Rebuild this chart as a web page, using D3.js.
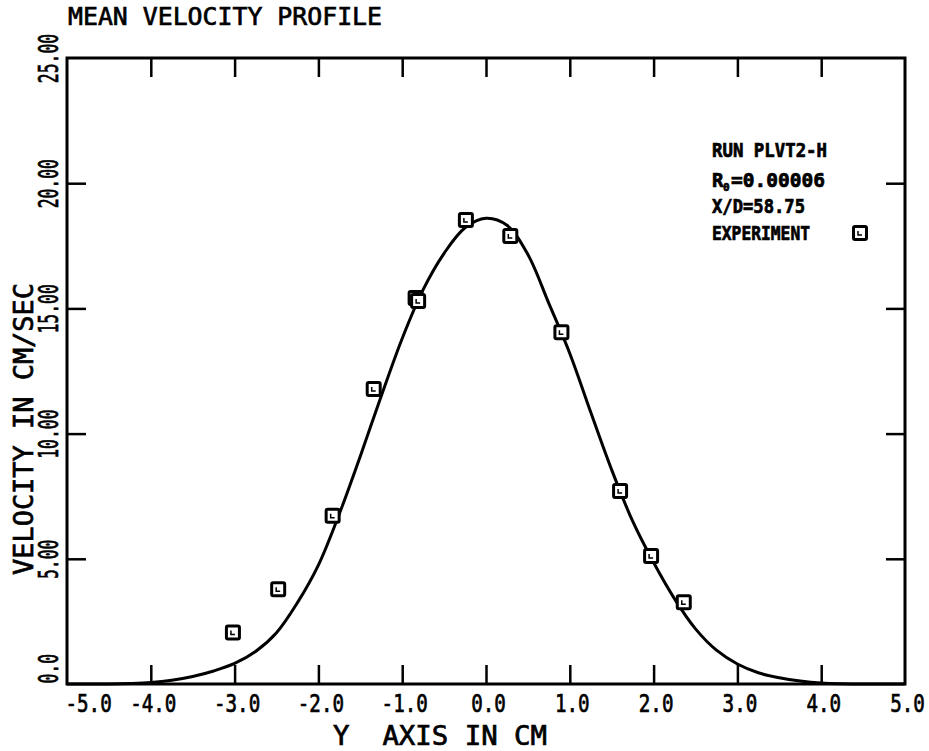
<!DOCTYPE html>
<html>
<head>
<meta charset="utf-8">
<script src="https://cdn.jsdelivr.net/npm/d3@7"></script>
<style>
  html, body { margin: 0; padding: 0; background: #fff; }
  svg { display: block; }
  text { font-family: "DejaVu Sans Mono", "Liberation Mono", monospace; fill: #000; white-space: pre; stroke: #000; stroke-width: 0.7px; }
</style>
</head>
<body>
<svg id="chart" width="929" height="751"></svg>
<script>
// ---- data ----
const xTicks = [-5, -4, -3, -2, -1, 0, 1, 2, 3, 4, 5];
const xTickLabels = ["-5.0", "-4.0", "-3.0", "-2.0", "-1.0", "0.0", "1.0", "2.0", "3.0", "4.0", "5.0"];
const yTicks = [0, 5, 10, 15, 20, 25];
const yTickLabels = ["0.0", "5.00", "10.00", "15.00", "20.00", "25.00"];
const innerXTicks = [-4, -3, -2, -1, 0, 1, 2, 3, 4];
const innerYTicks = [5, 10, 15, 20];

// experiment points (Y in cm, velocity cm/s)
const expY = [-3.02, -2.48, -1.83, -1.34, -0.84, -0.81, -0.24, 0.29, 0.90, 1.60, 1.97, 2.36];
const expV = [2.06, 3.78, 6.72, 11.78, 15.42, 15.30, 18.53, 17.89, 14.05, 7.71, 5.11, 3.26];

// computed profile
const curveY = [-5.0, -4.5, -4.25, -4.0, -3.75, -3.5, -3.25, -3.0, -2.75, -2.5, -2.25, -2.0, -1.75, -1.5, -1.25, -1.0, -0.75, -0.5, -0.25, 0.0, 0.25, 0.5, 0.75, 1.0, 1.25, 1.5, 1.75, 2.0, 2.25, 2.5, 2.75, 3.0, 3.25, 3.5, 3.75, 4.0, 4.25, 4.5, 5.0];
const curveV = [0.0, 0.0, 0.02, 0.06, 0.15, 0.30, 0.52, 0.82, 1.30, 2.05, 3.25, 4.75, 6.80, 9.10, 11.50, 13.80, 15.75, 17.20, 18.22, 18.60, 18.32, 17.15, 15.20, 13.20, 10.85, 8.55, 6.50, 4.85, 3.40, 2.20, 1.35, 0.80, 0.45, 0.25, 0.12, 0.04, 0.01, 0.0, 0.0];

const titleText = "MEAN VELOCITY PROFILE";
const xTitle = "Y  AXIS IN CM";
const yTitle = "VELOCITY IN CM/SEC";
const legendLines = ["RUN PLVT2-H", "=0.00006", "X/D=58.75", "EXPERIMENT"];

// ---- layout ----
const L = 67, R = 905, T = 58, B = 684;
const svg = d3.select("#chart");
const x = d3.scaleLinear().domain([-5, 5]).range([L, R]);
const y = d3.scaleLinear().domain([0, 25]).range([B, T]);

// frame
svg.append("rect").attr("x", L).attr("y", T).attr("width", R - L).attr("height", B - T)
  .attr("fill", "none").attr("stroke", "#000").attr("stroke-width", 3);

// inward ticks via axes
function tickAxis(axis, tr) {
  const g = svg.append("g").attr("transform", tr).call(axis);
  g.select(".domain").remove();
  g.selectAll(".tick line").attr("stroke", "#000").attr("stroke-width", 2.5);
  g.selectAll(".tick text").remove();
  return g;
}
tickAxis(d3.axisBottom(x).tickValues(innerXTicks).tickSize(-19).tickFormat(""), `translate(0,${B})`);
tickAxis(d3.axisTop(x).tickValues(innerXTicks).tickSize(-19).tickFormat(""), `translate(0,${T})`);
tickAxis(d3.axisLeft(y).tickValues(innerYTicks).tickSize(-19).tickFormat(""), `translate(${L},0)`);
tickAxis(d3.axisRight(y).tickValues(innerYTicks).tickSize(-19).tickFormat(""), `translate(${R},0)`);

// x tick labels
const xl = svg.append("g").attr("transform", `translate(0,${B})`)
  .call(d3.axisBottom(x).tickValues(xTicks).tickSize(0).tickFormat((d, i) => xTickLabels[i]));
xl.select(".domain").remove();
xl.attr("font-size", null).attr("font-family", null);
xl.selectAll(".tick text")
  .attr("y", null).attr("dy", null)
  .style("font-size", "24px")
  .attr("text-anchor", (d, i) => i === 0 ? "start" : "middle")
  .attr("transform", (d, i) => i === 0 ? "translate(-2,28) scale(0.8,1)" : "translate(2,28) scale(0.8,1)");

// y tick labels (rotated)
const yl = svg.append("g").attr("transform", `translate(${L},0)`)
  .call(d3.axisLeft(y).tickValues(yTicks).tickSize(0).tickFormat((d, i) => yTickLabels[i]));
yl.select(".domain").remove();
yl.attr("font-size", null).attr("font-family", null);
yl.selectAll(".tick text")
  .attr("x", null).attr("dy", null)
  .style("font-size", "26px")
  .attr("text-anchor", (d, i) => i === 0 ? "start" : "middle")
  .attr("transform", (d, i) => i === 0 ? "translate(-9,-1) rotate(-90) scale(0.63,1)" : "translate(-9,0) rotate(-90) scale(0.63,1)");

// curve
const line = d3.line().x((d, i) => x(curveY[i])).y((d, i) => y(curveV[i])).curve(d3.curveCatmullRom.alpha(0.5));
svg.append("path").datum(curveV).attr("d", line)
  .attr("fill", "none").attr("stroke", "#000").attr("stroke-width", 3).attr("stroke-linejoin", "round");

// experiment markers
function marker(sel) {
  sel.append("rect").attr("x", -6.5).attr("y", -6.5).attr("width", 13).attr("height", 13).attr("rx", 1.5)
    .attr("fill", "#fff").attr("stroke", "#000").attr("stroke-width", 3);
  sel.append("path").attr("d", "M-2,-2 L-2,2 L2,2").attr("fill", "none").attr("stroke", "#000").attr("stroke-width", 1.5);
}
svg.append("g").selectAll("g").data(expV).join("g")
  .attr("transform", (d, i) => `translate(${x(expY[i])},${y(d)})`)
  .call(marker);

// title
svg.append("text").attr("x", 68).attr("y", 25).style("font-size", "25px")
  .attr("textLength", 314).attr("lengthAdjust", "spacingAndGlyphs").text(titleText);

// axis titles
svg.append("text").attr("x", 333).attr("y", 745).style("font-size", "26px")
  .attr("textLength", 214).attr("lengthAdjust", "spacingAndGlyphs").text(xTitle);
svg.append("text").attr("transform", "translate(33,429) rotate(-90)").attr("text-anchor", "middle")
  .style("font-size", "27px").attr("textLength", 292).attr("lengthAdjust", "spacingAndGlyphs").text(yTitle);

// legend
const lg = svg.append("g").style("font-weight", "bold");
lg.append("text").attr("x", 712).attr("y", 157).style("font-size", "19px")
  .attr("textLength", 115).attr("lengthAdjust", "spacingAndGlyphs").text(legendLines[0]);
lg.append("text").attr("x", 712).attr("y", 187).style("font-size", "19px").text("R");
lg.append("text").attr("x", 723).attr("y", 191).style("font-size", "11px").text("0");
lg.append("text").attr("x", 731).attr("y", 187).style("font-size", "19px")
  .attr("textLength", 94).attr("lengthAdjust", "spacingAndGlyphs").text(legendLines[1]);
lg.append("text").attr("x", 712).attr("y", 213).style("font-size", "19px")
  .attr("textLength", 93).attr("lengthAdjust", "spacingAndGlyphs").text(legendLines[2]);
lg.append("text").attr("x", 712).attr("y", 240).style("font-size", "19px")
  .attr("textLength", 98).attr("lengthAdjust", "spacingAndGlyphs").text(legendLines[3]);
svg.append("g").attr("transform", "translate(860,233)").call(marker);
</script>
</body>
</html>
